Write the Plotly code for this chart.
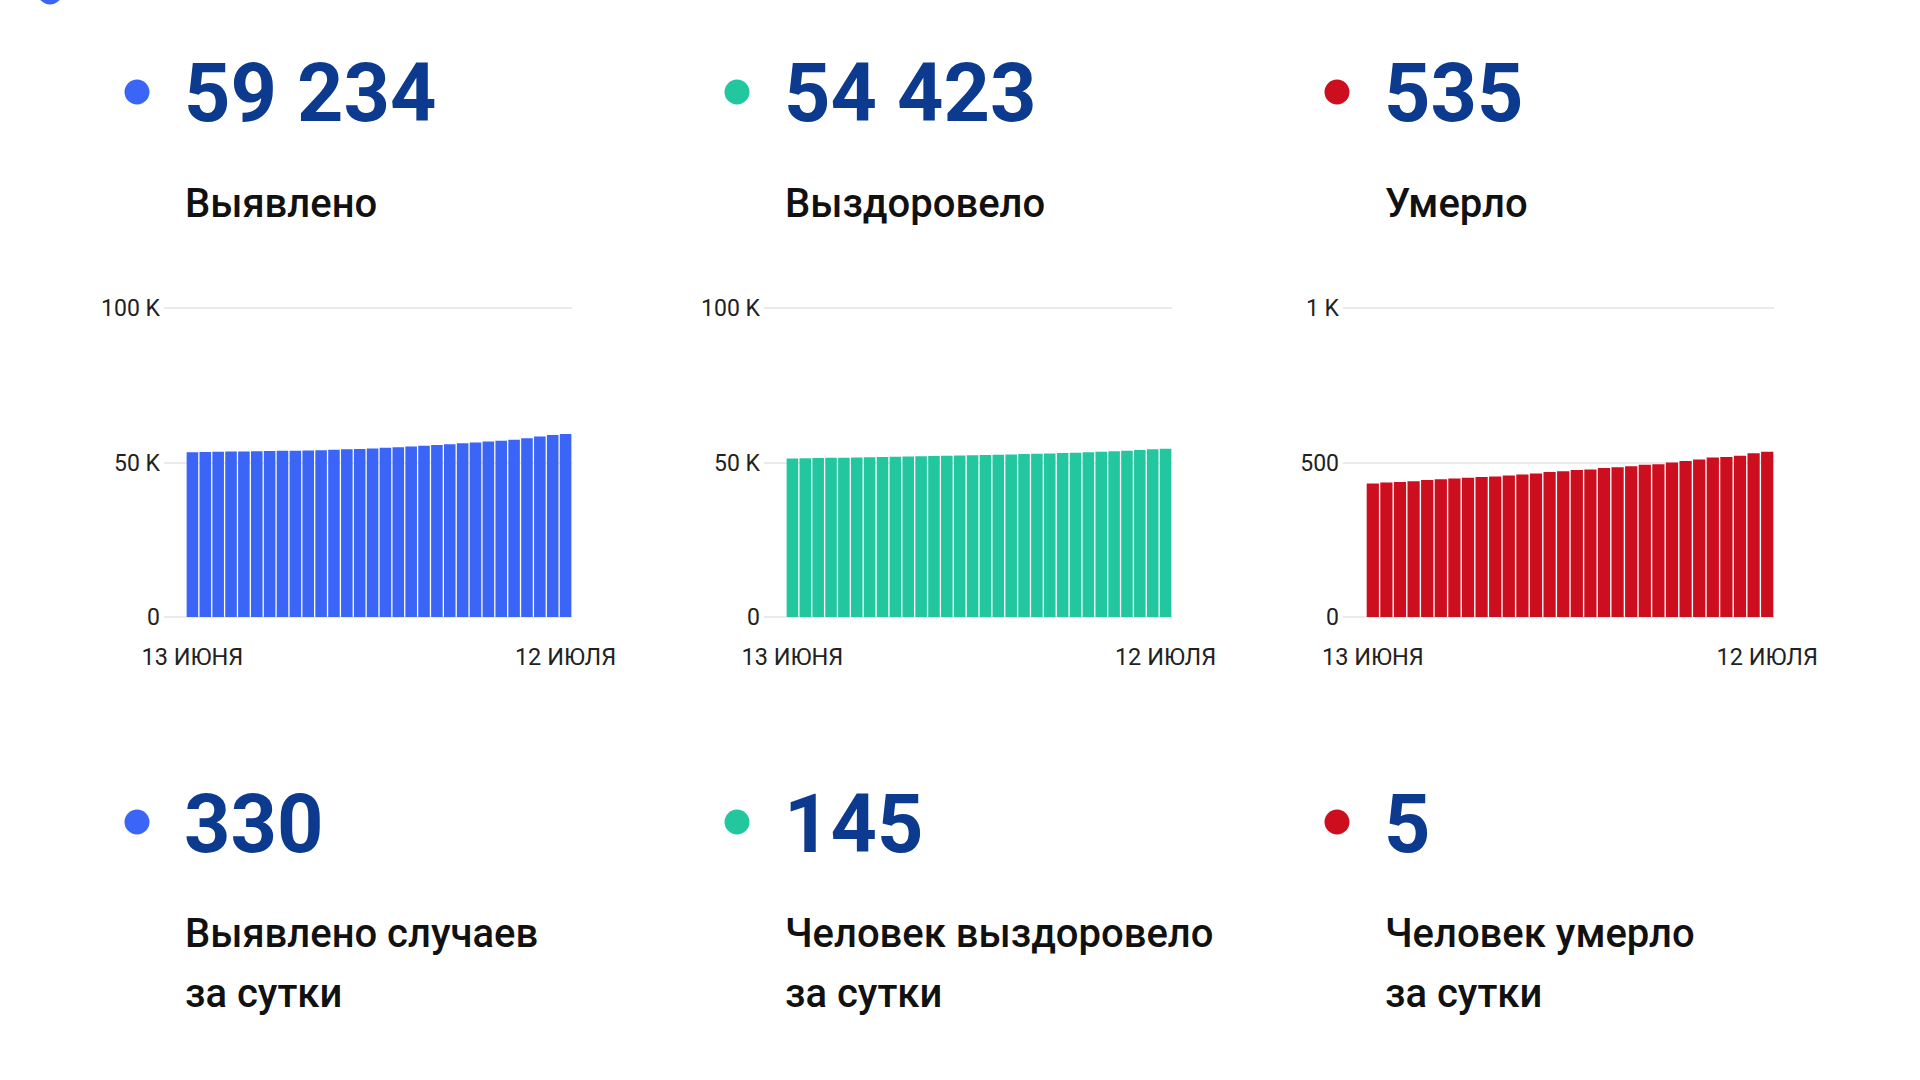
import plotly.graph_objects as go
import pandas as pd

# ---------------- data ----------------
dates = [d.strftime("%d.%m") for d in pd.date_range("2021-06-13", "2021-07-12")]
tick_labels = ["13 ИЮНЯ", "12 ИЮЛЯ"]

cases = [53355, 53410, 53465, 53520, 53580, 53640, 53700, 53765, 53830, 53900,
         54000, 54110, 54250, 54400, 54570, 54750, 54960, 55180, 55420, 55670,
         55940, 56210, 56480, 56760, 57060, 57400, 57850, 58380, 58904, 59234]
recovered = [51290, 51360, 51430, 51500, 51570, 51640, 51710, 51780, 51850, 51930,
             52010, 52090, 52170, 52250, 52340, 52430, 52520, 52620, 52720, 52830,
             52940, 53060, 53180, 53310, 53450, 53620, 53800, 54020, 54278, 54423]
deaths = [432, 435, 437, 439, 443, 446, 448, 451, 453, 455,
          458, 461, 464, 469, 472, 476, 477, 482, 485, 488,
          493, 494, 500, 505, 510, 516, 518, 522, 530, 535]

total_labels = ["Выявлено", "Выздоровело", "Умерло"]
daily_values = [330, 145, 5]
daily_labels = [["Выявлено случаев", "за сутки"],
                ["Человек выздоровело", "за сутки"],
                ["Человек умерло", "за сутки"]]

y_tickvals = [[0, 50000, 100000], [0, 50000, 100000], [0, 500, 1000]]
y_ticktext = [["0", "50 K", "100 K"], ["0", "50 K", "100 K"], ["0", "500", "1 K"]]

# ---------------- style ----------------
W, H = 1920, 1080
bar_colors = ["#3b65f7", "#22c7a0", "#cc0e1f"]
num_color = "#0c3a8e"
FONT = "Roboto"

def px_x(p):
    return p / W

def px_y(p):
    return 1 - p / H

series = [cases, recovered, deaths]
# pixel geometry of each small chart: (domain left, domain right, first bar left)
geo = [(164, 572, 186), (764, 1172, 786), (1343, 1774, 1366)]
plot_top, plot_bottom = 305, 620
grid_top, grid_bottom = 308, 617

fig = go.Figure()
layout = dict(
    width=W, height=H,
    margin=dict(l=0, r=0, t=0, b=0, pad=0, autoexpand=False),
    paper_bgcolor="white", plot_bgcolor="white",
    showlegend=False, bargap=0.1,
    font=dict(family=FONT, color="#222222"),
)

for i, (vals, col) in enumerate(zip(series, bar_colors)):
    n = i + 1
    xa = "x" if n == 1 else f"x{n}"
    ya = "y" if n == 1 else f"y{n}"
    fig.add_trace(go.Bar(x=dates, y=vals, marker=dict(color=col, line=dict(width=0)),
                         xaxis=xa, yaxis=ya, hoverinfo="skip"))
    left, right, bar0 = geo[i]
    bw = (right - bar0) / len(vals)
    xr = [-0.5 - (bar0 - left) / bw, len(vals) - 0.5]
    top_v = y_tickvals[i][-1]
    unit = top_v / (grid_bottom - grid_top)
    yr = [-(plot_bottom - grid_bottom) * unit, top_v + (grid_top - plot_top) * unit]
    layout["xaxis" if n == 1 else f"xaxis{n}"] = dict(
        domain=[px_x(left), px_x(right)], anchor=ya, type="category",
        range=xr, showgrid=False, zeroline=False, showline=False, ticks="",
        tickmode="array", tickvals=[dates[0], dates[-1]], ticktext=tick_labels,
        tickfont=dict(family=FONT, size=23.5, color="#222222"),
        ticklabelstandoff=20, fixedrange=True, automargin=False,
    )
    layout["yaxis" if n == 1 else f"yaxis{n}"] = dict(
        domain=[px_y(plot_bottom), px_y(plot_top)], anchor=xa,
        range=yr, showgrid=True, gridcolor="#ebebeb", gridwidth=1.5,
        zeroline=False, showline=False, ticks="",
        tickmode="array", tickvals=y_tickvals[i], ticktext=y_ticktext[i],
        tickfont=dict(family=FONT, size=23, color="#222222"),
        ticklabelstandoff=3, fixedrange=True, automargin=False,
    )

fig.update_layout(**layout)

annotations = []
shapes = []
col_offsets = [0, 600, 1200]
dot_r = 12.5

def add_dot(cx, cy, color):
    shapes.append(dict(type="circle", xref="paper", yref="paper",
                       x0=px_x(cx - dot_r), x1=px_x(cx + dot_r),
                       y0=px_y(cy + dot_r), y1=px_y(cy - dot_r),
                       fillcolor=color, line=dict(width=0)))

def add_text(x, y, text, size, color, weight):
    annotations.append(dict(xref="paper", yref="paper", x=px_x(x), y=px_y(y),
                            xanchor="left", yanchor="middle", showarrow=False,
                            text=text, font=dict(family=FONT, size=size, color=color,
                                                 weight=weight)))

def fmt(v):
    return f"{v:,}".replace(",", " ")

# partially visible dot at the very top-left
add_dot(50, -8, bar_colors[0])

for i in range(3):
    off = col_offsets[i]
    total = series[i][-1]
    add_dot(137 + off, 92, bar_colors[i])
    add_text(182 + off, 94, fmt(total), 81, num_color, 700)
    add_text(183 + off, 203, total_labels[i], 40, "#111111", 500)

    add_dot(137 + off, 822, bar_colors[i])
    add_text(182 + off, 824, fmt(daily_values[i]), 81, num_color, 700)
    add_text(183 + off, 933, daily_labels[i][0], 40, "#111111", 500)
    add_text(183 + off, 993, daily_labels[i][1], 40, "#111111", 500)

fig.update_layout(annotations=annotations, shapes=shapes)
fig.write_html("out.html")
